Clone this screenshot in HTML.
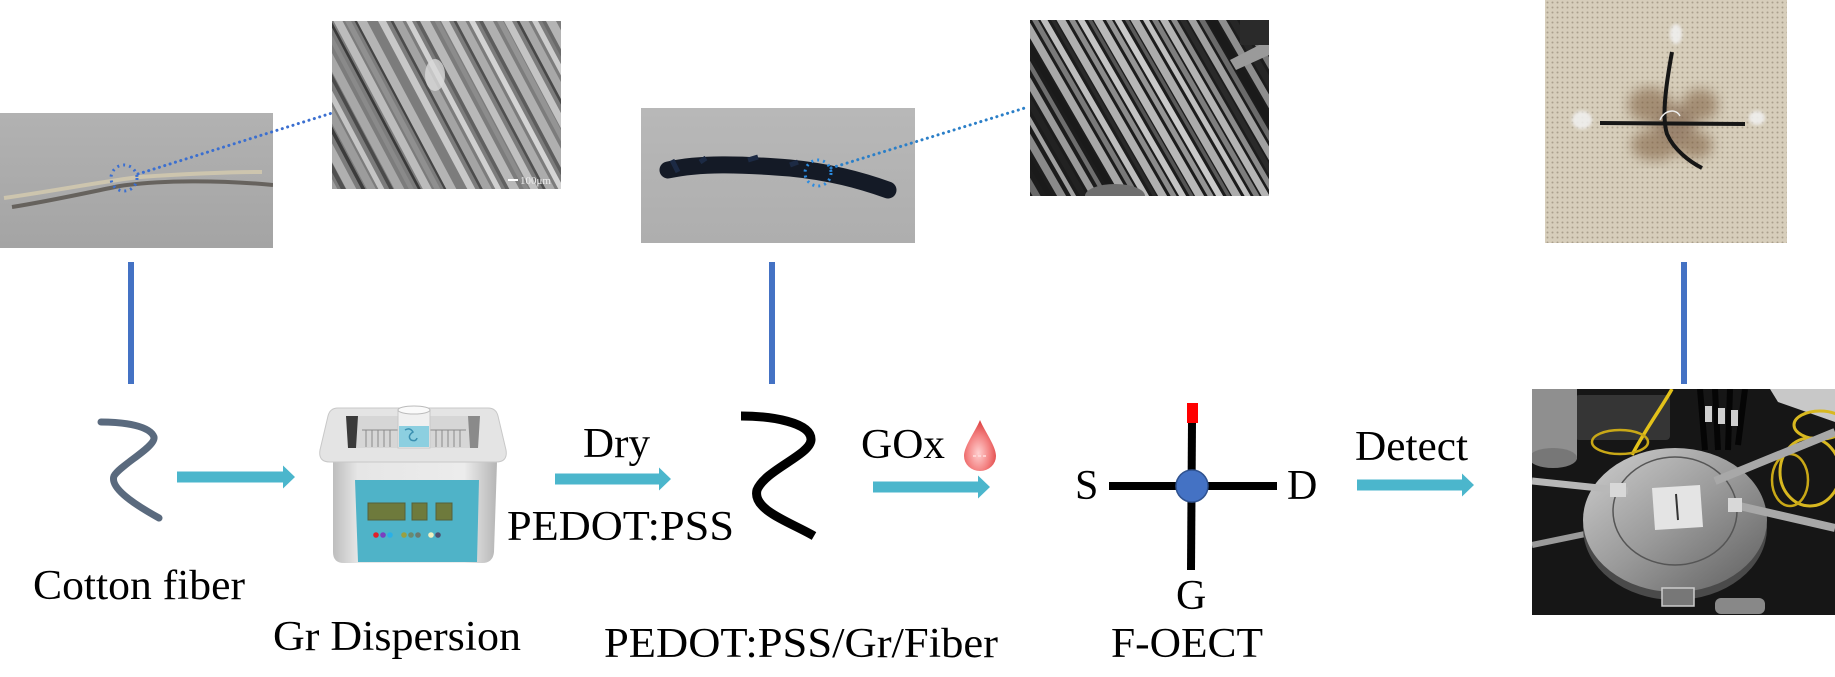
<!DOCTYPE html>
<html><head><meta charset="utf-8"><style>
html,body{margin:0;padding:0;background:#fff;}
svg{display:block;}
text{font-family:"Liberation Serif","Times New Roman",serif;fill:#000;}
</style></head><body>
<svg width="1835" height="677" viewBox="0 0 1835 677" xmlns="http://www.w3.org/2000/svg">
<defs>
<clipPath id="csem1"><rect x="332" y="21" width="229" height="168"/></clipPath>
<clipPath id="csem2"><rect x="1030" y="20" width="239" height="176"/></clipPath>
<clipPath id="cfab"><rect x="1545" y="0" width="242" height="243"/></clipPath>
<clipPath id="cp4"><rect x="1532" y="389" width="303" height="226"/></clipPath>
<clipPath id="cp1"><rect x="0" y="113" width="273" height="135"/></clipPath>
<pattern id="dots" width="5" height="5" patternUnits="userSpaceOnUse">
<rect width="5" height="5" fill="#d7cebb"/><circle cx="2.5" cy="2.5" r="1" fill="#a99f8c"/>
</pattern>
<linearGradient id="g1" x1="0" y1="0" x2="0" y2="1"><stop offset="0" stop-color="#b2b2b2"/><stop offset="1" stop-color="#a4a4a4"/></linearGradient>
<linearGradient id="g2" x1="0" y1="0" x2="0" y2="1"><stop offset="0" stop-color="#b8b8b8"/><stop offset="1" stop-color="#aeaeae"/></linearGradient>
<linearGradient id="body" x1="0" y1="0" x2="1" y2="0"><stop offset="0" stop-color="#bdbdbd"/><stop offset="0.15" stop-color="#e6e6e6"/><stop offset="0.8" stop-color="#ececec"/><stop offset="1" stop-color="#b5b5b5"/></linearGradient>
<linearGradient id="stage" x1="0" y1="0" x2="1" y2="1"><stop offset="0" stop-color="#cfcfcf"/><stop offset="0.5" stop-color="#9a9a9a"/><stop offset="1" stop-color="#5e5e5e"/></linearGradient>
<radialGradient id="drop" cx="0.45" cy="0.65" r="0.6"><stop offset="0" stop-color="#ffd0d0"/><stop offset="0.6" stop-color="#f38080"/><stop offset="1" stop-color="#e04848"/></radialGradient>
<filter id="blur6"><feGaussianBlur stdDeviation="6"/></filter>
<filter id="blur2"><feGaussianBlur stdDeviation="1.5"/></filter>
</defs>

<!-- Photo 1 -->
<g clip-path="url(#cp1)">
<rect x="0" y="113" width="273" height="135" fill="url(#g1)"/>
<path d="M12,207 C50,201 90,192 120,186 C160,180 220,180 273,185" stroke="#5a5650" stroke-width="4" fill="none" opacity="0.85"/>
<path d="M4,198 C60,190 110,180 140,177 C180,174 230,172 262,172" stroke="#cdc5ae" stroke-width="4" fill="none"/>
</g>
<circle cx="124" cy="178" r="13" fill="none" stroke="#3b6fd0" stroke-width="3" stroke-dasharray="2 4"/>
<line x1="138" y1="174" x2="332" y2="113" stroke="#3b6fd0" stroke-width="3" stroke-dasharray="0.1 5.5" stroke-linecap="round"/>

<!-- SEM 1 -->
<g clip-path="url(#csem1)">
<rect x="332" y="21" width="229" height="168" fill="#7c7c7c"/>
<g transform="translate(332,21) skewX(28)">
<line x1="-88" y1="-5" x2="-88" y2="175" stroke="#a0a0a0" stroke-width="8"/>
<line x1="-78" y1="-5" x2="-78" y2="175" stroke="#505050" stroke-width="5"/>
<line x1="-70" y1="-5" x2="-70" y2="175" stroke="#b0b0b0" stroke-width="10"/>
<line x1="-58" y1="-5" x2="-58" y2="175" stroke="#3c3c3c" stroke-width="4"/>
<line x1="-50" y1="-5" x2="-50" y2="175" stroke="#9c9c9c" stroke-width="9"/>
<line x1="-40" y1="-5" x2="-40" y2="175" stroke="#c4c4c4" stroke-width="6"/>
<line x1="-30" y1="-5" x2="-30" y2="175" stroke="#4a4a4a" stroke-width="4"/>
<line x1="-22" y1="-5" x2="-22" y2="175" stroke="#a8a8a8" stroke-width="10"/>
<line x1="-10" y1="-5" x2="-10" y2="175" stroke="#8a8a8a" stroke-width="5"/>
<line x1="-2" y1="-5" x2="-2" y2="175" stroke="#3a3a3a" stroke-width="3"/>
<line x1="6" y1="-5" x2="6" y2="175" stroke="#bcbcbc" stroke-width="9"/>
<line x1="16" y1="-5" x2="16" y2="175" stroke="#909090" stroke-width="6"/>
<line x1="24" y1="-5" x2="24" y2="175" stroke="#444" stroke-width="3"/>
<line x1="30" y1="-5" x2="30" y2="175" stroke="#b4b4b4" stroke-width="10"/>
<line x1="42" y1="-5" x2="42" y2="175" stroke="#7c7c7c" stroke-width="5"/>
<line x1="50" y1="-5" x2="50" y2="175" stroke="#c8c8c8" stroke-width="8"/>
<line x1="60" y1="-5" x2="60" y2="175" stroke="#4c4c4c" stroke-width="3"/>
<line x1="66" y1="-5" x2="66" y2="175" stroke="#a4a4a4" stroke-width="9"/>
<line x1="77" y1="-5" x2="77" y2="175" stroke="#d0d0d0" stroke-width="6"/>
<line x1="86" y1="-5" x2="86" y2="175" stroke="#606060" stroke-width="4"/>
<line x1="93" y1="-5" x2="93" y2="175" stroke="#b8b8b8" stroke-width="10"/>
<line x1="105" y1="-5" x2="105" y2="175" stroke="#8c8c8c" stroke-width="5"/>
<line x1="113" y1="-5" x2="113" y2="175" stroke="#c0c0c0" stroke-width="8"/>
<line x1="123" y1="-5" x2="123" y2="175" stroke="#505050" stroke-width="3"/>
<line x1="129" y1="-5" x2="129" y2="175" stroke="#acacac" stroke-width="9"/>
<line x1="140" y1="-5" x2="140" y2="175" stroke="#d4d4d4" stroke-width="6"/>
<line x1="149" y1="-5" x2="149" y2="175" stroke="#5c5c5c" stroke-width="4"/>
<line x1="156" y1="-5" x2="156" y2="175" stroke="#b0b0b0" stroke-width="10"/>
<line x1="168" y1="-5" x2="168" y2="175" stroke="#949494" stroke-width="6"/>
<line x1="176" y1="-5" x2="176" y2="175" stroke="#c4c4c4" stroke-width="8"/>
<line x1="186" y1="-5" x2="186" y2="175" stroke="#484848" stroke-width="3"/>
<line x1="192" y1="-5" x2="192" y2="175" stroke="#a8a8a8" stroke-width="9"/>
<line x1="203" y1="-5" x2="203" y2="175" stroke="#cccccc" stroke-width="6"/>
<line x1="212" y1="-5" x2="212" y2="175" stroke="#6a6a6a" stroke-width="4"/>
<line x1="219" y1="-5" x2="219" y2="175" stroke="#b4b4b4" stroke-width="10"/>
<line x1="231" y1="-5" x2="231" y2="175" stroke="#8a8a8a" stroke-width="6"/>
</g>
<ellipse cx="435" cy="75" rx="10" ry="16" fill="#d8d8d8" opacity="0.8"/>
<line x1="508" y1="180" x2="518" y2="180" stroke="#fff" stroke-width="2"/>
<text x="520" y="184" font-size="11" style="fill:#eee">100μm</text>
</g>

<!-- Photo 2 -->
<rect x="641" y="108" width="274" height="135" fill="url(#g2)"/>
<path d="M668,170 C700,163 740,164 790,168 C830,172 860,180 888,190" stroke="#141a26" stroke-width="17" fill="none" stroke-linecap="round"/>
<path d="M672,160 L678,172 M700,162 l6,-4 M748,160 l10,-3 M790,165 l8,-3" stroke="#1c2a44" stroke-width="5" fill="none"/>
<circle cx="818" cy="173" r="13" fill="none" stroke="#2b8be0" stroke-width="3" stroke-dasharray="2 4"/>
<line x1="831" y1="168" x2="1028" y2="107" stroke="#2b7fc8" stroke-width="3" stroke-dasharray="0.1 5.5" stroke-linecap="round"/>

<!-- SEM 2 -->
<g clip-path="url(#csem2)">
<rect x="1030" y="20" width="239" height="176" fill="#1c1c1c"/>
<g transform="translate(1030,20) skewX(30)">
<line x1="-95" y1="-5" x2="-95" y2="185" stroke="#6a6a6a" stroke-width="8"/>
<line x1="-82" y1="-5" x2="-82" y2="185" stroke="#1a1a1a" stroke-width="6"/>
<line x1="-70" y1="-5" x2="-70" y2="185" stroke="#8a8a8a" stroke-width="9"/>
<line x1="-58" y1="-5" x2="-58" y2="185" stroke="#a0a0a0" stroke-width="5"/>
<line x1="-48" y1="-5" x2="-48" y2="185" stroke="#222" stroke-width="7"/>
<line x1="-37" y1="-5" x2="-37" y2="185" stroke="#9a9a9a" stroke-width="8"/>
<line x1="-26" y1="-5" x2="-26" y2="185" stroke="#6e6e6e" stroke-width="5"/>
<line x1="-16" y1="-5" x2="-16" y2="185" stroke="#1a1a1a" stroke-width="6"/>
<line x1="-6" y1="-5" x2="-6" y2="185" stroke="#a8a8a8" stroke-width="9"/>
<line x1="5" y1="-5" x2="5" y2="185" stroke="#7a7a7a" stroke-width="6"/>
<line x1="14" y1="-5" x2="14" y2="185" stroke="#bdbdbd" stroke-width="7"/>
<line x1="23" y1="-5" x2="23" y2="185" stroke="#2a2a2a" stroke-width="4"/>
<line x1="31" y1="-5" x2="31" y2="185" stroke="#b0b0b0" stroke-width="9"/>
<line x1="42" y1="-5" x2="42" y2="185" stroke="#8c8c8c" stroke-width="6"/>
<line x1="51" y1="-5" x2="51" y2="185" stroke="#c4c4c4" stroke-width="7"/>
<line x1="60" y1="-5" x2="60" y2="185" stroke="#555" stroke-width="4"/>
<line x1="68" y1="-5" x2="68" y2="185" stroke="#b8b8b8" stroke-width="9"/>
<line x1="79" y1="-5" x2="79" y2="185" stroke="#969696" stroke-width="6"/>
<line x1="88" y1="-5" x2="88" y2="185" stroke="#cacaca" stroke-width="7"/>
<line x1="97" y1="-5" x2="97" y2="185" stroke="#5a5a5a" stroke-width="4"/>
<line x1="105" y1="-5" x2="105" y2="185" stroke="#acacac" stroke-width="9"/>
<line x1="116" y1="-5" x2="116" y2="185" stroke="#c0c0c0" stroke-width="6"/>
<line x1="125" y1="-5" x2="125" y2="185" stroke="#7e7e7e" stroke-width="6"/>
<line x1="134" y1="-5" x2="134" y2="185" stroke="#b4b4b4" stroke-width="8"/>
<line x1="144" y1="-5" x2="144" y2="185" stroke="#8a8a8a" stroke-width="6"/>
<line x1="153" y1="-5" x2="153" y2="185" stroke="#2a2a2a" stroke-width="6"/>
<line x1="162" y1="-5" x2="162" y2="185" stroke="#a0a0a0" stroke-width="8"/>
<line x1="172" y1="-5" x2="172" y2="185" stroke="#6a6a6a" stroke-width="6"/>
<line x1="181" y1="-5" x2="181" y2="185" stroke="#1a1a1a" stroke-width="8"/>
<line x1="192" y1="-5" x2="192" y2="185" stroke="#8e8e8e" stroke-width="8"/>
<line x1="203" y1="-5" x2="203" y2="185" stroke="#262626" stroke-width="8"/>
<line x1="214" y1="-5" x2="214" y2="185" stroke="#7a7a7a" stroke-width="7"/>
<line x1="225" y1="-5" x2="225" y2="185" stroke="#222" stroke-width="8"/>
<line x1="236" y1="-5" x2="236" y2="185" stroke="#5a5a5a" stroke-width="8"/>
</g>
<path d="M1230,60 L1269,40 L1269,55 L1236,70 Z" fill="#9a9a9a"/>
<rect x="1240" y="20" width="29" height="25" fill="#2a2a2a"/>
<ellipse cx="1115" cy="196" rx="30" ry="12" fill="#6e6e6e"/>
</g>

<!-- Fabric photo -->
<g clip-path="url(#cfab)">
<rect x="1545" y="0" width="242" height="243" fill="url(#dots)"/>
<g filter="url(#blur6)" opacity="0.55">
<ellipse cx="1650" cy="105" rx="22" ry="18" fill="#7a5a3a"/>
<ellipse cx="1700" cy="105" rx="18" ry="16" fill="#7a5a3a"/>
<ellipse cx="1655" cy="145" rx="24" ry="16" fill="#7a5a3a"/>
<ellipse cx="1695" cy="145" rx="18" ry="14" fill="#7a5a3a"/>
<ellipse cx="1675" cy="125" rx="20" ry="20" fill="#6a4a30"/>
</g>
<g filter="url(#blur2)" fill="#f2f2f2" opacity="0.85">
<ellipse cx="1676" cy="34" rx="6" ry="10"/>
<ellipse cx="1582" cy="120" rx="10" ry="9"/>
<ellipse cx="1757" cy="118" rx="8" ry="7"/>
</g>
<path d="M1600,123 L1745,124" stroke="#161616" stroke-width="4" fill="none"/>
<path d="M1672,52 C1665,90 1662,118 1667,134 C1674,150 1690,162 1702,168" stroke="#161616" stroke-width="4" fill="none"/>
<path d="M1660,120 C1664,110 1676,108 1680,116" stroke="#eee" stroke-width="1.5" fill="none"/>
</g>

<!-- Blue connector lines -->
<rect x="128" y="262" width="6" height="122" fill="#4472c4"/>
<rect x="769" y="262" width="6" height="122" fill="#4472c4"/>
<rect x="1681" y="262" width="6" height="122" fill="#4472c4"/>

<!-- Cotton fiber squiggle -->
<path d="M101,422 C125,422 150,426 154,437 C156,447 120,465 114,476 C110,487 130,502 159,518" stroke="#5a6a7e" stroke-width="7" fill="none" stroke-linecap="round"/>

<!-- Arrows -->
<g fill="#4bb6cc">
<polygon points="177,471.5 283,471.5 283,465.5 295,477 283,488.5 283,482.5 177,482.5"/>
<polygon points="555,473.5 659,473.5 659,467.5 671,479 659,490.5 659,484.5 555,484.5"/>
<polygon points="873,481.5 978,481.5 978,475.5 990,487 978,498.5 978,492.5 873,492.5"/>
<polygon points="1357,479.5 1462,479.5 1462,473.5 1474,485 1462,496.5 1462,490.5 1357,490.5"/>
</g>

<!-- Ultrasonic bath -->
<g>
<path d="M333,462 L497,462 L494,552 Q493,563 482,563 L344,563 Q333,563 333,552 Z" fill="url(#body)"/>
<path d="M338,408 L488,408 Q496,408 498,416 L506,450 Q508,462 496,462 L330,462 Q318,462 320,450 L328,416 Q330,408 338,408 Z" fill="#e4e4e4" stroke="#c8c8c8" stroke-width="1"/>
<path d="M346,416 L480,416 L478,448 L348,448 Z" fill="#d6d6d6"/>
<path d="M346,416 L358,416 L356,448 L348,448 Z" fill="#3a3a3a"/>
<path d="M468,416 L480,416 L478,448 L470,448 Z" fill="#8a8a8a"/>
<g stroke="#8a8a8a" stroke-width="1">
<line x1="362" y1="430" x2="466" y2="430"/>
<line x1="366" y1="430" x2="366" y2="447"/><line x1="372" y1="430" x2="372" y2="447"/><line x1="378" y1="430" x2="378" y2="447"/><line x1="384" y1="430" x2="384" y2="447"/><line x1="390" y1="430" x2="390" y2="447"/>
<line x1="436" y1="430" x2="436" y2="447"/><line x1="442" y1="430" x2="442" y2="447"/><line x1="448" y1="430" x2="448" y2="447"/><line x1="454" y1="430" x2="454" y2="447"/><line x1="460" y1="430" x2="460" y2="447"/>
</g>
<rect x="398" y="410" width="32" height="38" fill="#f0f0f0" stroke="#c8c8c8" stroke-width="1"/>
<rect x="399" y="426" width="30" height="21" fill="#8ccfe0"/>
<path d="M405,430 q5,-3 8,2 q-6,4 -2,8 q5,2 6,-2" stroke="#3a8fb0" stroke-width="1.5" fill="none"/>
<ellipse cx="414" cy="410" rx="16" ry="4" fill="#fafafa" stroke="#bbb" stroke-width="1"/>
<path d="M355,480 L479,480 L477,562 L358,562 Z" fill="#4fb3c8"/>
<rect x="368" y="503" width="37" height="17" fill="#6e7a3c" stroke="#55603a" stroke-width="1"/>
<rect x="412" y="503" width="15" height="17" fill="#6e7a3c" stroke="#55603a" stroke-width="1"/>
<rect x="436" y="503" width="16" height="17" fill="#6e7a3c" stroke="#55603a" stroke-width="1"/>
<circle cx="376" cy="535" r="2.8" fill="#e0202a"/>
<circle cx="383" cy="535" r="2.8" fill="#7a3fc0"/>
<circle cx="390" cy="535" r="2.8" fill="#2ab0e8"/>
<circle cx="404" cy="535" r="2.8" fill="#9aa040"/>
<circle cx="411" cy="535" r="2.8" fill="#6a8a70"/>
<circle cx="418" cy="535" r="2.8" fill="#6a7a70"/>
<circle cx="431" cy="535" r="2.8" fill="#f0f0c0"/>
<circle cx="438" cy="535" r="2.8" fill="#505070"/>
</g>

<!-- PEDOT fiber squiggle -->
<path d="M741,416 C770,416 812,422 811,440 C810,455 765,470 757,490 C752,510 790,522 814,536" stroke="#000" stroke-width="9" fill="none" stroke-linecap="butt"/>

<!-- Drop -->
<path d="M980,420 C985,432 996,446 996,456 A16,15 0 0 1 964,456 C964,446 975,432 980,420 Z" fill="url(#drop)"/>
<line x1="973" y1="456" x2="987" y2="456" stroke="#ffdede" stroke-width="1.5" stroke-dasharray="3 2"/>

<!-- F-OECT cross -->
<rect x="1109" y="482" width="168" height="8" fill="#000"/>
<polygon points="1188,422 1196,422 1195,570 1187,570" fill="#000"/>
<rect x="1187" y="403" width="11" height="20" fill="#ff0000"/>
<circle cx="1192" cy="486" r="16" fill="#4472c4" stroke="#2f528f" stroke-width="1.5"/>

<!-- Photo 4 -->
<g clip-path="url(#cp4)">
<rect x="1532" y="389" width="303" height="226" fill="#161616"/>
<rect x="1575" y="395" width="95" height="45" rx="4" fill="#353535"/>
<rect x="1532" y="389" width="45" height="70" fill="#8f8f8f"/>
<ellipse cx="1553" cy="458" rx="24" ry="10" fill="#777"/>
<polygon points="1770,389 1835,389 1835,422 1778,402" fill="#c8c8c8"/>
<path d="M1672,389 C1660,410 1645,430 1632,455" stroke="#e3c21a" stroke-width="3.5" fill="none"/>
<ellipse cx="1620" cy="442" rx="28" ry="12" stroke="#c9a817" stroke-width="2.5" fill="none"/>
<ellipse cx="1810" cy="472" rx="30" ry="34" stroke="#d8b820" stroke-width="3" fill="none"/>
<ellipse cx="1820" cy="425" rx="26" ry="14" stroke="#d8b820" stroke-width="3" fill="none"/>
<ellipse cx="1790" cy="480" rx="18" ry="26" stroke="#c9a817" stroke-width="2.5" fill="none"/>
<g stroke="#050505" stroke-width="6">
<line x1="1700" y1="389" x2="1705" y2="450"/><line x1="1715" y1="389" x2="1718" y2="450"/>
<line x1="1730" y1="389" x2="1728" y2="450"/><line x1="1745" y1="389" x2="1738" y2="445"/>
</g>
<g fill="#cfcfcf"><rect x="1705" y="406" width="7" height="16"/><rect x="1718" y="408" width="7" height="16"/><rect x="1731" y="410" width="7" height="16"/></g>
<line x1="1532" y1="545" x2="1590" y2="533" stroke="#9a9a9a" stroke-width="6"/>
<ellipse cx="1675" cy="528" rx="92" ry="72" fill="#4a4a4a"/>
<ellipse cx="1675" cy="520" rx="92" ry="72" fill="url(#stage)"/>
<ellipse cx="1675" cy="511" rx="62" ry="54" fill="none" stroke="#555" stroke-width="1.5"/>
<line x1="1532" y1="481" x2="1628" y2="491" stroke="#b8b8b8" stroke-width="7"/>
<rect x="1610" y="483" width="16" height="14" fill="#d8d8d8"/>
<line x1="1715" y1="481" x2="1835" y2="432" stroke="#a8a8a8" stroke-width="8"/>
<line x1="1735" y1="505" x2="1835" y2="528" stroke="#a8a8a8" stroke-width="8"/>
<rect x="1728" y="498" width="14" height="14" fill="#d8d8d8"/>
<polygon points="1652,488 1700,485 1703,527 1655,530" fill="#e4e4e4"/>
<line x1="1676" y1="494" x2="1678" y2="520" stroke="#333" stroke-width="2"/>
<rect x="1662" y="588" width="32" height="18" fill="#777" stroke="#ccc" stroke-width="1.5"/>
<rect x="1715" y="598" width="50" height="16" rx="6" fill="#888"/>
</g>

<!-- Text labels -->
<text x="33" y="599" font-size="42" textLength="212" lengthAdjust="spacingAndGlyphs">Cotton fiber</text>
<text x="273" y="650" font-size="42" textLength="248" lengthAdjust="spacingAndGlyphs">Gr Dispersion</text>
<text x="583" y="457" font-size="42" textLength="67" lengthAdjust="spacingAndGlyphs">Dry</text>
<text x="507" y="540" font-size="42" textLength="227" lengthAdjust="spacingAndGlyphs">PEDOT:PSS</text>
<text x="861" y="458" font-size="42" textLength="84" lengthAdjust="spacingAndGlyphs">GOx</text>
<text x="604" y="657" font-size="42" textLength="394" lengthAdjust="spacingAndGlyphs">PEDOT:PSS/Gr/Fiber</text>
<text x="1075" y="499" font-size="42">S</text>
<text x="1287" y="499" font-size="42">D</text>
<text x="1176" y="609" font-size="42">G</text>
<text x="1111" y="657" font-size="42" textLength="152" lengthAdjust="spacingAndGlyphs">F-OECT</text>
<text x="1355" y="460" font-size="42" textLength="113" lengthAdjust="spacingAndGlyphs">Detect</text>
</svg>
</body></html>
